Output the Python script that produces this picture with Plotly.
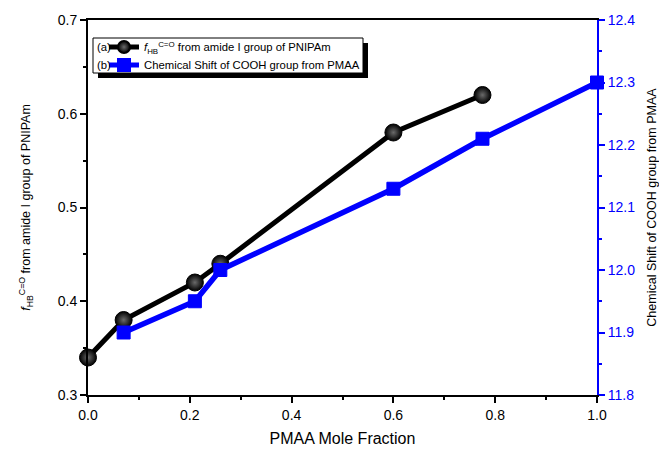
import plotly.graph_objects as go

# Data
x_fhb = [0.0, 0.07, 0.21, 0.26, 0.60, 0.775]
y_fhb = [0.34, 0.38, 0.42, 0.44, 0.58, 0.62]
x_cs = [0.07, 0.21, 0.26, 0.60, 0.775, 1.0]
y_cs = [11.90, 11.95, 12.00, 12.13, 12.21, 12.30]

name_a = "<i>f</i><sub>HB</sub><sup>C=O</sup> from amide I group of PNIPAm"
name_b = "Chemical Shift of COOH group from PMAA"

FONT = "Liberation Sans, Arial, sans-serif"
BLUE = "#0000ff"
LEG_FS = 11.3

# plot area in screen px: x 88..597, y 20..395
def px(sx):
    return (sx - 88) / 509

def py(sy):
    return 1 - (sy - 20) / 375

fig = go.Figure()
fig.add_trace(go.Scatter(
    x=x_fhb, y=y_fhb, mode="lines+markers", name=name_a, legend="legend",
    line=dict(color="black", width=5),
    marker=dict(symbol="circle", size=17, color="black",
                gradient=dict(type="radial", color="#6a6a6a"),
                line=dict(color="black", width=1)),
    cliponaxis=False,
))
fig.add_trace(go.Scatter(
    x=x_cs, y=y_cs, mode="lines+markers", yaxis="y2", name=name_b, legend="legend2",
    line=dict(color=BLUE, width=5.5),
    marker=dict(symbol="square", size=13, color=BLUE, line=dict(color=BLUE, width=1)),
    cliponaxis=False,
))

# legend frame (shadow + box) and labels
fig.add_shape(type="rect", xref="paper", yref="paper",
              x0=px(98), x1=px(368), y0=py(78), y1=py(43),
              fillcolor="black", line=dict(width=0), layer="above")
fig.add_shape(type="rect", xref="paper", yref="paper",
              x0=px(93), x1=px(363), y0=py(73), y1=py(38),
              fillcolor="white", line=dict(color="black", width=1), layer="above")
for lbl, sy in [("(a)", 47), ("(b)", 65)]:
    fig.add_annotation(text=lbl, xref="paper", yref="paper",
                       x=px(95), y=py(sy), xanchor="left", yanchor="middle",
                       showarrow=False,
                       font=dict(family=FONT, size=LEG_FS, color="black"))

leg_common = dict(xanchor="left", yanchor="middle", bgcolor="rgba(0,0,0,0)",
                  borderwidth=0, itemwidth=30, itemsizing="constant",
                  font=dict(family=FONT, size=LEG_FS, color="black"))

fig.update_layout(
    width=651, height=439,
    margin=dict(l=80, r=62, t=12, b=52, autoexpand=False),
    paper_bgcolor="white", plot_bgcolor="white",
    font=dict(family=FONT, color="black"),
    showlegend=True,
    legend=dict(x=px(104), y=py(47), **leg_common),
    legend2=dict(x=px(104), y=py(65), **leg_common),
    xaxis=dict(
        automargin=False,
        range=[0, 1], tickvals=[0, 0.2, 0.4, 0.6, 0.8, 1.0],
        ticktext=["0.0", "0.2", "0.4", "0.6", "0.8", "1.0"],
        ticks="outside", ticklen=6, tickwidth=2, tickcolor="black",
        minor=dict(ticks="outside", ticklen=3, tickwidth=2, tickcolor="black", dtick=0.1),
        showline=True, linecolor="black", linewidth=2, mirror=True,
        showgrid=False, zeroline=False,
        tickfont=dict(size=14, family=FONT),
        title=dict(text="PMAA Mole Fraction", font=dict(size=16, family=FONT), standoff=14),
    ),
    yaxis=dict(
        automargin=False,
        range=[0.3, 0.7], tickvals=[0.3, 0.4, 0.5, 0.6, 0.7],
        ticktext=["0.3", "0.4", "0.5", "0.6", "0.7"],
        ticks="outside", ticklen=6, tickwidth=2, tickcolor="black",
        minor=dict(ticks="outside", ticklen=3, tickwidth=2, tickcolor="black", dtick=0.05),
        showline=True, linecolor="black", linewidth=2,
        showgrid=False, zeroline=False,
        tickfont=dict(size=14, family=FONT),
        title=dict(text=name_a, font=dict(size=12.5, family=FONT), standoff=24),
    ),
    yaxis2=dict(
        automargin=False,
        range=[11.8, 12.4], overlaying="y", side="right",
        tickvals=[11.8, 11.9, 12.0, 12.1, 12.2, 12.3, 12.4],
        ticktext=["11.8", "11.9", "12.0", "12.1", "12.2", "12.3", "12.4"],
        ticks="outside", ticklen=6, tickwidth=2, tickcolor=BLUE,
        minor=dict(ticks="outside", ticklen=3, tickwidth=2, tickcolor=BLUE, dtick=0.05),
        showline=True, linecolor=BLUE, linewidth=2,
        showgrid=False, zeroline=False,
        tickfont=dict(size=14, family=FONT, color=BLUE),
        title=dict(text=name_b, font=dict(size=12.5, family=FONT, color="black"), standoff=17),
    ),
)

fig.write_html("out.html")
